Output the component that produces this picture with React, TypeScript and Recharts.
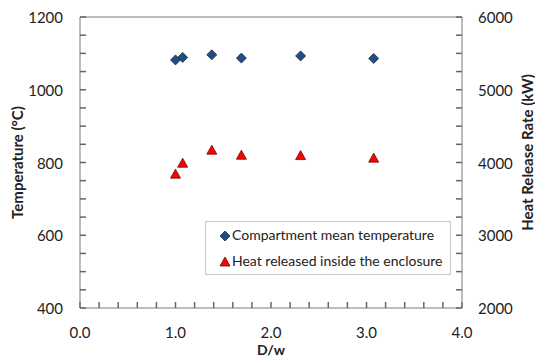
import { ReferenceLine, Scatter, ScatterChart, XAxis, YAxis } from "recharts";

const DW = [1.0, 1.075, 1.38, 1.69, 2.31, 3.075];
const TEMP = [1082, 1089, 1096, 1087, 1093, 1086];
const HRR = [3840, 3990, 4170, 4100, 4095, 4060];

const X_TICKS = [0, 0.2, 0.4, 0.6, 0.8, 1, 1.2, 1.4, 1.6, 1.8, 2, 2.2, 2.4, 2.6, 2.8, 3, 3.2, 3.4, 3.6, 3.8, 4];
const X_LABELS = [0, 1, 2, 3, 4];
const T_TICKS = [400, 450, 500, 550, 600, 650, 700, 750, 800, 850, 900, 950, 1000, 1050, 1100, 1150, 1200];
const T_LABELS = [400, 600, 800, 1000, 1200];
const Q_TICKS = [2000, 2250, 2500, 2750, 3000, 3250, 3500, 3750, 4000, 4250, 4500, 4750, 5000, 5250, 5500, 5750, 6000];
const Q_LABELS = [2000, 3000, 4000, 5000, 6000];

const FONT = "Lato, 'Open Sans', sans-serif";
const AXIS = "#7a7a7a";
const TEXT = "#222";
const BLUE = "#1f4e85";
const RED = "#ff0000";

const tempRows = DW.map((x, i) => ({ x, y: TEMP[i] }));
const hrrRows = DW.map((x, i) => ({ x, y: HRR[i] }));

const Diamond = ({ cx, cy }: any) => (
  <polygon points={`${cx},${cy - 5} ${cx + 5},${cy} ${cx},${cy + 5} ${cx - 5},${cy}`}
    fill={BLUE} stroke="#1a2a40" strokeWidth={0.8} />
);
const Triangle = ({ cx, cy }: any) => (
  <polygon points={`${cx},${cy - 5} ${cx + 5},${cy + 4} ${cx - 5},${cy + 4}`}
    fill={RED} stroke="#5a1010" strokeWidth={0.8} />
);

// negative tickSize → tick marks point into the plot; only the major values get a label
const LeftTick = ({ x, y, payload }: any) =>
  T_LABELS.includes(payload.value) ? (
    <text x={x} y={y} textAnchor="end" dominantBaseline="central" fill={TEXT} fontSize={15} fontFamily={FONT}>
      {payload.value}
    </text>
  ) : <g />;
const RightTick = ({ x, y, payload }: any) =>
  Q_LABELS.includes(payload.value) ? (
    <text x={x} y={y} textAnchor="start" dominantBaseline="central" fill={TEXT} fontSize={15} fontFamily={FONT}>
      {payload.value}
    </text>
  ) : <g />;
const BottomTick = ({ x, y, payload }: any) =>
  X_LABELS.some((v) => Math.abs(v - payload.value) < 1e-6) ? (
    <text x={x} y={y} textAnchor="middle" dominantBaseline="central" fill={TEXT} fontSize={15} fontFamily={FONT}>
      {payload.value.toFixed(1)}
    </text>
  ) : <g />;

const LeftTitle = ({ viewBox }: any) => {
  const cx = viewBox.x + 17, cy = viewBox.y + viewBox.height / 2;
  return (
    <text x={cx} y={cy} transform={`rotate(-90 ${cx} ${cy})`} textAnchor="middle" dominantBaseline="central"
      fill={TEXT} fontSize={15} fontWeight="bold" fontFamily={FONT}>Temperature (°C)</text>
  );
};
const RightTitle = ({ viewBox }: any) => {
  const cx = viewBox.x + 65, cy = viewBox.y + viewBox.height / 2 - 10;
  return (
    <text x={cx} y={cy} transform={`rotate(-90 ${cx} ${cy})`} textAnchor="middle" dominantBaseline="central"
      fill={TEXT} fontSize={15} fontWeight="bold" fontFamily={FONT}>Heat Release Rate (kW)</text>
  );
};
const BottomTitle = ({ viewBox }: any) => (
  <text x={viewBox.x + viewBox.width / 2} y={viewBox.y + 41} textAnchor="middle" dominantBaseline="central"
    fill={TEXT} fontSize={14} fontWeight="bold" fontFamily={FONT}>D/w</text>
);

const tickLine = { stroke: "#666", strokeWidth: 1.5 };

export default function App() {
  return (
    <div style={{ position: "fixed", left: 0, top: 0, width: 535, height: 357, background: "#fff" }}>
      <ScatterChart width={535} height={357} margin={{ top: 17, right: 0, bottom: 0, left: 0 }}>
        <XAxis type="number" dataKey="x" domain={[0, 4]} ticks={X_TICKS} interval={0} height={49}
          tickSize={-6} tickMargin={30} tickLine={tickLine} axisLine={{ stroke: AXIS }} tick={<BottomTick />}
          label={<BottomTitle />} allowDataOverflow />
        <YAxis yAxisId="left" type="number" dataKey="y" domain={[400, 1200]} ticks={T_TICKS} interval={0} width={80}
          tickSize={-6} tickMargin={23} tickLine={tickLine} axisLine={{ stroke: AXIS }} tick={<LeftTick />}
          label={<LeftTitle />} allowDataOverflow />
        <YAxis yAxisId="right" orientation="right" type="number" dataKey="y" domain={[2000, 6000]} ticks={Q_TICKS}
          interval={0} width={73} tickSize={-6} tickMargin={22} tickLine={tickLine} axisLine={{ stroke: AXIS }}
          tick={<RightTick />} label={<RightTitle />} allowDataOverflow />
        <ReferenceLine yAxisId="left" y={1200} stroke={AXIS} />
        <Scatter yAxisId="left" data={tempRows} shape={<Diamond />} isAnimationActive={false} />
        <Scatter yAxisId="right" data={hrrRows} shape={<Triangle />} isAnimationActive={false} />
      </ScatterChart>
      <div style={{
        position: "absolute", left: 205, top: 221, width: 244, height: 52, border: "1px solid #c8c8c8",
        background: "#fff", fontFamily: FONT, fontSize: 14, color: TEXT,
      }}>
        <svg width={14} height={52} style={{ position: "absolute", left: 12, top: 0 }}>
          <Diamond cx={7} cy={14} />
          <Triangle cx={7} cy={40} />
        </svg>
        <div style={{ position: "absolute", left: 26, top: 4, whiteSpace: "nowrap" }}>Compartment mean temperature</div>
        <div style={{ position: "absolute", left: 26, top: 30, whiteSpace: "nowrap" }}>Heat released inside the enclosure</div>
      </div>
    </div>
  );
}
